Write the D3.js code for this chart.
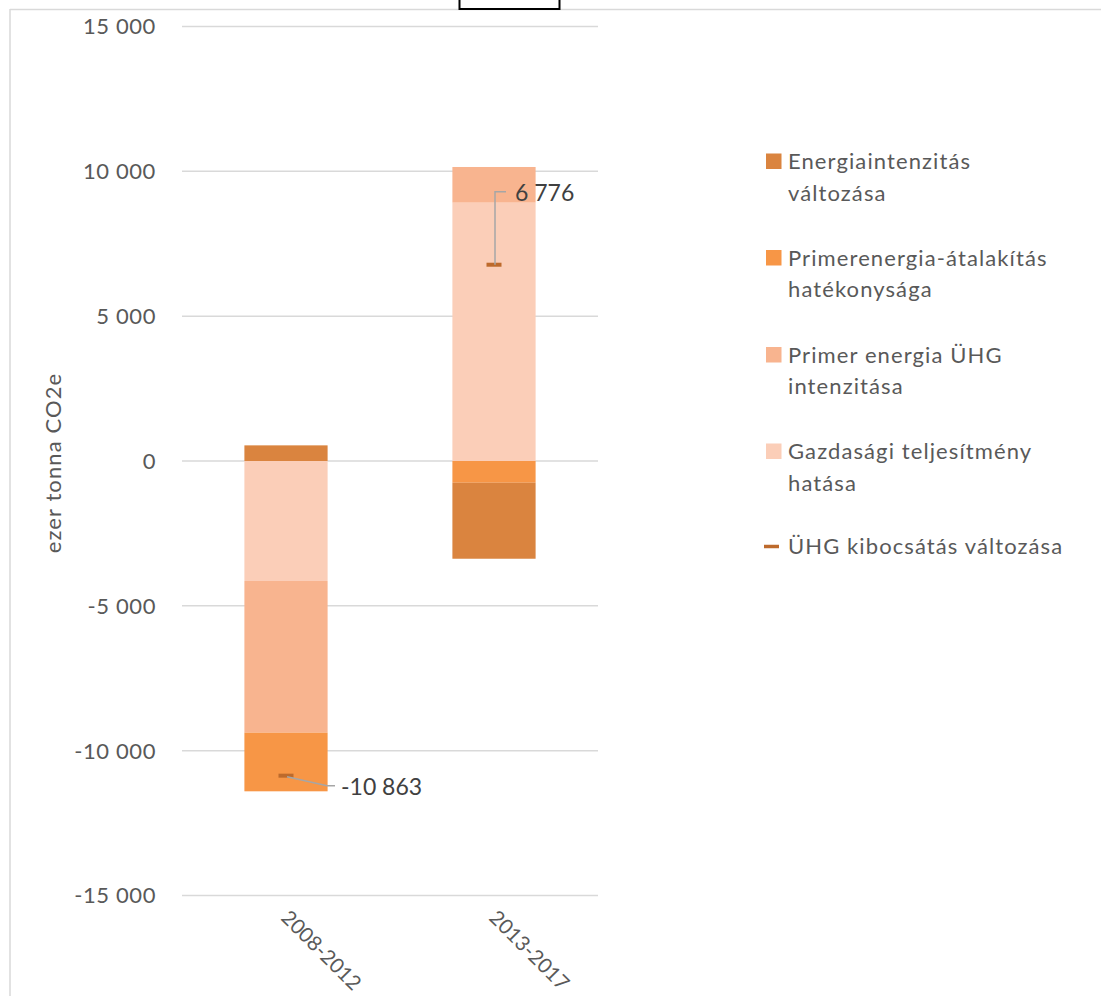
<!DOCTYPE html>
<html><head><meta charset="utf-8">
<script src="https://cdn.jsdelivr.net/npm/d3@7"></script>
<style>body{margin:0;background:#fff}svg{display:block}text{font-family:Lato,"Open Sans",sans-serif;fill:#595959}</style>
</head><body><svg id="c" width="1101" height="996"></svg>
<script>
const categories = ["2008-2012", "2013-2017"];
const seriesNames = ["Energiaintenzitás változása", "Primerenergia-átalakítás hatékonysága", "Primer energia ÜHG intenzitása", "Gazdasági teljesítmény hatása"];
const energiaintenzitas = [540, -2624];
const primerAtalakitas = [-2023, -750];
const primerUHG = [-5240, 1230];
const gazdasagi = [-4140, 8920];
const totalChange = [-10863, 6776];
const totalLabels = ["-10 863", "6 776"];
const yTicks = [-15000, -10000, -5000, 0, 5000, 10000, 15000];
const legendLines = [["Energiaintenzitás", "változása"], ["Primerenergia-átalakítás", "hatékonysága"], ["Primer energia ÜHG", "intenzitása"], ["Gazdasági teljesítmény", "hatása"], ["ÜHG kibocsátás változása"]];
const colors = ["#DA843F", "#F79646", "#F8B48F", "#FBCEB8"];
const markerColor = "#BD6A2C";

const svg = d3.select("#c");
// outer frame
svg.append("line").attr("x1",10).attr("x2",1101).attr("y1",9.5).attr("y2",9.5).attr("stroke","#d9d9d9").attr("stroke-width",1.5);
svg.append("line").attr("x1",10).attr("x2",10).attr("y1",9).attr("y2",996).attr("stroke","#d9d9d9").attr("stroke-width",1.5);
svg.append("rect").attr("x",459.5).attr("y",-3).attr("width",100).attr("height",12).attr("fill","#fff").attr("stroke","#000").attr("stroke-width",2);

const y = d3.scaleLinear().domain([-15000, 15000]).range([895.5, 26.5]);
const x = d3.scaleBand().domain(categories).range([182, 598]).paddingInner(0.6).paddingOuter(0.3);

// gridlines
svg.append("g").selectAll("line").data(yTicks).join("line")
  .attr("x1",182).attr("x2",598).attr("y1",d=>y(d)).attr("y2",d=>y(d))
  .attr("stroke","#d9d9d9").attr("stroke-width",1.5);

// y axis labels
const fmt = v => d3.format(",")(v).replace(/,/g," ").replace("−","-");
svg.append("g").selectAll("text").data(yTicks).join("text")
  .attr("x",156).attr("y",d=>y(d)).attr("dy","0.36em").attr("text-anchor","end")
  .style("font-size","22px").style("letter-spacing","0.6px").text(d=>fmt(d));

svg.append("text").attr("transform",`translate(61,${(373+553)/2}) rotate(-90)`)
  .attr("text-anchor","middle").style("font-size","22px").style("letter-spacing","1.1px").text("ezer tonna CO2e");

// stacked data
const rows = categories.map((c,i)=>({cat:c, s0:gazdasagi[i], s1:primerUHG[i], s2:primerAtalakitas[i], s3:energiaintenzitas[i]}));
const stackKeys = ["s0","s1","s2","s3"];
const keyColor = {s0:colors[3], s1:colors[2], s2:colors[1], s3:colors[0]};
const stack = d3.stack().keys(stackKeys).offset(d3.stackOffsetDiverging)(rows);
svg.append("g").selectAll("g").data(stack).join("g").attr("fill",d=>keyColor[d.key])
  .selectAll("rect").data(d=>d).join("rect")
  .attr("x",d=>x(d.data.cat)).attr("width",x.bandwidth())
  .attr("y",d=>y(Math.max(d[0],d[1]))).attr("height",d=>Math.abs(y(d[0])-y(d[1])));

// total markers
const cx = i => x(categories[i]) + x.bandwidth()/2;
svg.append("g").selectAll("rect").data(totalChange).join("rect")
  .attr("x",(d,i)=>cx(i)-7.5).attr("y",d=>y(d)-2).attr("width",15).attr("height",4).attr("fill",markerColor);

// leader lines and labels
const g0 = svg.append("g");
const p0x = cx(0), p0y = y(totalChange[0]);
g0.append("polyline").attr("points",`${p0x+1},${p0y+1} ${p0x+41},${p0y+10} ${p0x+49},${p0y+10}`)
  .attr("fill","none").attr("stroke","#a6a6a6").attr("stroke-width",1.5);
g0.append("text").attr("x",p0x+55).attr("y",p0y+11).attr("dy","0.36em").style("font-size","23px").style("fill","#404040").text(totalLabels[0]);
const p1x = cx(1), p1y = y(totalChange[1]);
g0.append("polyline").attr("points",`${p1x+1},${p1y} ${p1x+1},${p1y-73} ${p1x+12},${p1y-73}`)
  .attr("fill","none").attr("stroke","#a6a6a6").attr("stroke-width",1.5);
g0.append("text").attr("x",p1x+21).attr("y",p1y-72).attr("dy","0.36em").style("font-size","23px").style("fill","#404040").text(totalLabels[1]);

// x labels
svg.append("g").selectAll("text").data(categories).join("text")
  .attr("transform",(d,i)=>`translate(${cx(i)-6},${919}) rotate(45)`)
  .attr("text-anchor","start").style("font-size","20.5px").text(d=>d);

// legend
const legendY = [161.5, 258, 355, 451.5, 546.5];
const lg = svg.append("g");
legendLines.forEach((lines,i)=>{
  if(i<4){
    lg.append("rect").attr("x",766).attr("y",legendY[i]-8).attr("width",15.5).attr("height",15.5).attr("fill",colors[i]);
  } else {
    lg.append("line").attr("x1",764).attr("x2",779).attr("y1",legendY[i]).attr("y2",legendY[i]).attr("stroke",markerColor).attr("stroke-width",3.5);
  }
  lines.forEach((t,j)=>{
    lg.append("text").attr("x",788).attr("y",legendY[i]+j*31.5).attr("dy","0.36em")
      .style("font-size","22px").style("letter-spacing","1.1px").text(t);
  });
});
</script></body></html>
